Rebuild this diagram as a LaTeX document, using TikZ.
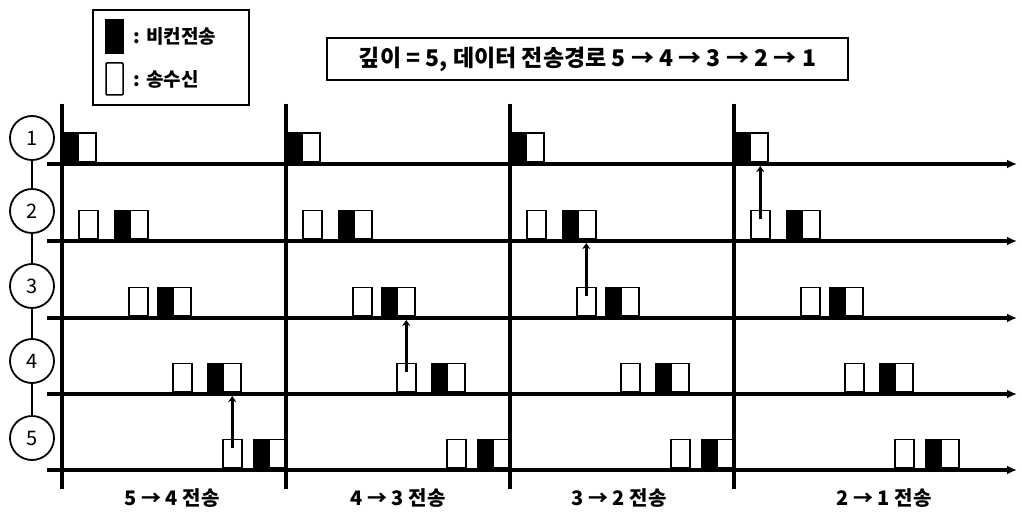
\documentclass[tikz,border=0pt]{standalone}
\usepackage{fontspec}
\newfontfamily\krfont{Noto Sans CJK KR}
\usetikzlibrary{positioning, arrows.meta}

\begin{document}
\begin{tikzpicture}[
  x=1pt, y=-1pt,
  font=\krfont\fontsize{20}{24}\selectfont,
  station/.style={draw, circle, line width=1.8pt, minimum size=44pt, inner sep=0pt},
  slot/.style={draw, line width=1.5pt, minimum height=28pt, inner sep=0pt},
  rxslot/.style={slot, fill=white, minimum width=19pt},
  bcnslot/.style={slot, fill=black, minimum width=15pt},
  timeline/.style={line width=4.5pt, -{Latex[length=10pt,width=9pt]}},
  divider/.style={line width=4.5pt},
  relay/.style={line width=3.5pt, -{Stealth[length=6pt,width=8pt]}},
  caption/.style={font=\krfont\bfseries\fontsize{20}{24}\selectfont},
  keytext/.style={font=\krfont\bfseries\fontsize{19}{22}\selectfont, inner sep=0pt},
]
\useasboundingbox (0,0) rectangle (1022,516);

% legend
\node[draw, line width=1.8pt, minimum width=156pt, minimum height=95pt] (legend) at (171,57.5) {};
\node[bcnslot, minimum width=17pt, minimum height=33pt] (key-bcn) at (114.5,36.5) {};
\node[rxslot, minimum width=17pt, minimum height=32pt, rounded corners=1pt] (key-rx) at (114.5,79) {};
\node[keytext, right=10pt of key-bcn] (key-bcn-txt) {: 비컨전송};
\node[keytext, right=10pt of key-rx] (key-rx-txt) {: 송수신};

% depth and route
\node[draw, line width=1.8pt, minimum width=521pt, minimum height=42pt, caption, font=\krfont\bfseries\fontsize{23}{26}\selectfont] (route) at (587.5,59)
  {깊이 = 5, 데이터 전송경로 5 → 4 → 3 → 2 → 1};

% time lines per depth
\foreach \r/\y/\cy in {1/164/138, 2/241/211, 3/318/286, 4/394/361, 5/470/438} {
  \coordinate (row\r-start) at (47,\y);
  \coordinate (row\r-end) at (1017,\y);
  \draw[timeline] (row\r-start) -- (row\r-end);
  \node[station, fill=white] (st\r) at (32,\cy) {\r};
}
\draw[line width=2.5pt] (st1) -- (st2);
\draw[line width=2.5pt] (st2) -- (st3);
\draw[line width=2.5pt] (st3) -- (st4);
\draw[line width=2.5pt] (st4) -- (st5);

% phases
\foreach \k/\x/\cx/\lbl in {1/62/172/5 → 4 전송, 2/286/398/4 → 3 전송, 3/510/619/3 → 2 전송, 4/734/884/2 → 1 전송} {
  \coordinate (top\k) at (\x,104);
  \coordinate (bot\k) at (\x,489);
  \draw[divider] (top\k) -- (bot\k);
  \node[caption] (cap\k) at (\cx,498) {\lbl};
  \foreach \r/\y/\b/\s in {1/164/0/0, 2/241/52/16, 3/318/95/66, 4/394/145/110, 5/470/191/160} {
    \node[bcnslot, anchor=south west] (bcn-\k-\r) at (\x+\b,\y-2) {};
    \node[rxslot, right=-1.5pt of bcn-\k-\r, minimum width=18pt] (bw-\k-\r) {};
    \ifnum\r>1
      \node[rxslot, anchor=south west] (rx-\k-\r) at (\x+\s,\y-2) {};
    \fi
  }
}

% relay transmissions
\coordinate (hit1) at (rx-1-5.center |- row4-start);
\coordinate (hit2) at (rx-2-4.center |- row3-start);
\coordinate (hit3) at (rx-3-3.center |- row2-start);
\coordinate (hit4) at (rx-4-2.center |- row1-start);
\draw[relay] ([yshift=-9pt]rx-1-5.north) -- ([yshift=-2pt]hit1);
\draw[relay] ([yshift=-9pt]rx-2-4.north) -- ([yshift=-2pt]hit2);
\draw[relay] ([yshift=-9pt]rx-3-3.north) -- ([yshift=-2pt]hit3);
\draw[relay] ([yshift=-9pt]rx-4-2.north) -- ([yshift=-2pt]hit4);
\end{tikzpicture}
\end{document}
